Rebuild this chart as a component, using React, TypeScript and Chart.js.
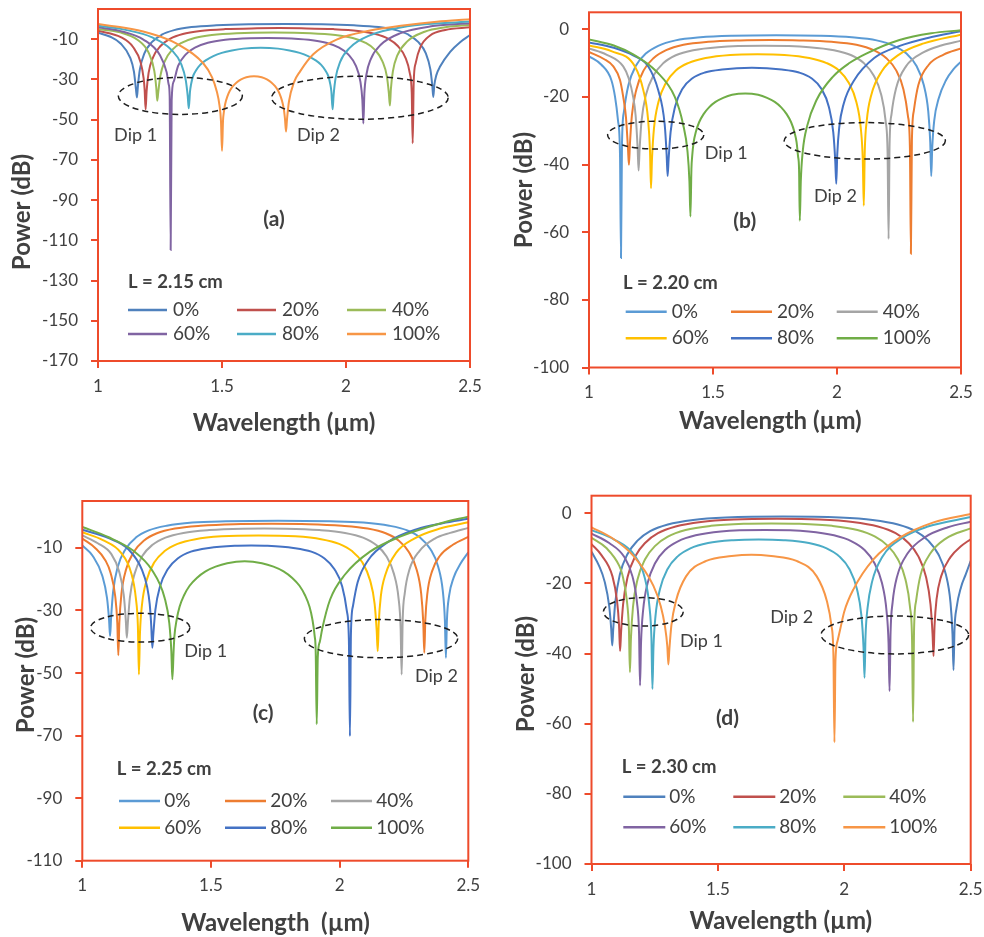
import React, { useEffect, useRef } from 'react';
import { Chart, registerables } from 'chart.js';

Chart.register(...registerables);

type Pt = [number, number];

// ---------- labels & ticks ----------
const seriesLabels = ['0%', '20%', '40%', '60%', '80%', '100%'];
const xTickValues = [1, 1.5, 2, 2.5];
const yTicksA = [-170, -150, -130, -110, -90, -70, -50, -30, -10];
const yTicksB = [-100, -80, -60, -40, -20, 0];
const yTicksC = [-110, -90, -70, -50, -30, -10];
const yTicksD = [-100, -80, -60, -40, -20, 0];

const colorsOffice2010 = ['#4F81BD', '#C0504D', '#9BBB59', '#8064A2', '#4BACC6', '#F79646'];
const colorsOffice2013 = ['#5B9BD5', '#ED7D31', '#A5A5A5', '#FFC000', '#4472C4', '#70AD47'];

// ---------- panel (a) L = 2.15 cm : [wavelength um, power dB] ----------
const a0: Pt[] = [[1.0,-6.8],[1.05,-8.8],[1.09,-12.0],[1.13,-19.3],[1.145,-26.2],[1.153,-34.8],[1.157,-39.0],[1.161,-33.2],[1.169,-24.9],[1.187,-17.1],[1.217,-11.5],[1.257,-7.8],[1.307,-5.5],[1.377,-4.0],[1.477,-3.1],[1.607,-2.6],[1.755,-2.5],[1.902,-2.6],[2.032,-3.1],[2.132,-4.0],[2.202,-5.5],[2.252,-7.8],[2.292,-11.5],[2.322,-17.1],[2.34,-24.9],[2.348,-33.1],[2.352,-38.7],[2.356,-33.0],[2.364,-28.0],[2.38,-23.5],[2.42,-16.3],[2.46,-11.5],[2.5,-8.0]];
const a1: Pt[] = [[1.0,-5.8],[1.092,-9.0],[1.142,-14.0],[1.172,-21.6],[1.184,-29.5],[1.188,-35.0],[1.192,-44.9],[1.196,-35.8],[1.204,-26.8],[1.222,-19.0],[1.252,-13.4],[1.292,-9.7],[1.342,-7.4],[1.412,-5.9],[1.512,-5.0],[1.642,-4.6],[1.731,-4.5],[1.819,-4.6],[1.949,-5.0],[2.049,-5.9],[2.119,-7.4],[2.169,-9.7],[2.209,-13.4],[2.239,-19.0],[2.257,-26.8],[2.265,-36.4],[2.269,-61.8],[2.273,-31.4],[2.281,-21.9],[2.299,-14.2],[2.339,-8.2],[2.4,-5.4],[2.5,-4.1]];
const a2: Pt[] = [[1.0,-5.0],[1.089,-6.6],[1.159,-10.3],[1.204,-16.7],[1.227,-25.8],[1.235,-34.2],[1.239,-40.6],[1.243,-36.3],[1.251,-28.5],[1.269,-21.0],[1.299,-15.3],[1.339,-11.7],[1.389,-9.4],[1.459,-7.9],[1.559,-7.0],[1.708,-6.7],[1.857,-7.0],[1.957,-7.9],[2.027,-9.4],[2.077,-11.7],[2.117,-15.3],[2.147,-21.0],[2.165,-28.6],[2.173,-37.1],[2.177,-43.0],[2.181,-34.8],[2.189,-26.0],[2.207,-18.1],[2.247,-11.1],[2.317,-6.3],[2.4,-4.1],[2.5,-2.9]];
const a3: Pt[] = [[1.0,-4.1],[1.1,-6.3],[1.183,-10.2],[1.25,-18.0],[1.277,-26.5],[1.285,-32.5],[1.289,-38.5],[1.293,-114.8],[1.297,-40.6],[1.305,-31.1],[1.323,-23.3],[1.353,-17.7],[1.393,-14.1],[1.443,-11.8],[1.513,-10.3],[1.613,-9.5],[1.682,-9.4],[1.75,-9.5],[1.85,-10.3],[1.92,-11.8],[1.97,-14.1],[2.01,-17.7],[2.04,-23.3],[2.058,-31.1],[2.066,-40.3],[2.07,-51.9],[2.074,-37.2],[2.082,-27.8],[2.1,-19.9],[2.14,-12.8],[2.22,-7.0],[2.35,-3.5],[2.5,-2.1]];
const a4: Pt[] = [[1.0,-3.3],[1.116,-5.5],[1.216,-9.0],[1.296,-15.3],[1.336,-22.5],[1.354,-30.5],[1.362,-38.6],[1.366,-44.4],[1.371,-36.0],[1.375,-32.6],[1.383,-28.5],[1.395,-25.6],[1.412,-22.8],[1.436,-20.4],[1.465,-18.4],[1.499,-16.8],[1.54,-15.6],[1.586,-14.7],[1.656,-14.3],[1.726,-14.7],[1.772,-15.6],[1.813,-16.8],[1.847,-18.4],[1.876,-20.4],[1.9,-22.8],[1.917,-25.6],[1.929,-28.5],[1.937,-32.6],[1.941,-36.0],[1.946,-44.9],[1.95,-37.9],[1.958,-29.4],[1.976,-21.4],[2.016,-14.2],[2.096,-8.1],[2.246,-3.6],[2.5,-1.2]];
const a5: Pt[] = [[1.0,-2.5],[1.1,-4.2],[1.2,-6.8],[1.317,-12.2],[1.425,-22.1],[1.46,-29.0],[1.479,-36.0],[1.49,-43.0],[1.496,-51.0],[1.5,-65.5],[1.504,-50.8],[1.508,-45.8],[1.513,-42.1],[1.521,-38.7],[1.531,-35.8],[1.544,-33.4],[1.559,-31.5],[1.577,-30.0],[1.598,-28.9],[1.629,-28.4],[1.66,-28.9],[1.681,-30.0],[1.699,-31.5],[1.714,-33.4],[1.727,-35.8],[1.737,-38.7],[1.745,-42.1],[1.75,-45.4],[1.754,-49.7],[1.758,-55.9],[1.762,-50.0],[1.77,-41.0],[1.79,-31.5],[1.815,-26.0],[1.868,-17.5],[1.962,-10.2],[2.097,-5.7],[2.23,-3.2],[2.366,-1.3],[2.5,-0.1]];

// ---------- panel (b) L = 2.20 cm ----------
const b0: Pt[] = [[1.0,-8.0],[1.05,-10.5],[1.09,-15.0],[1.105,-20.0],[1.117,-27.0],[1.125,-37.0],[1.129,-67.6],[1.133,-33.9],[1.141,-24.3],[1.159,-16.5],[1.189,-10.8],[1.229,-7.2],[1.279,-4.9],[1.349,-3.3],[1.449,-2.4],[1.579,-1.95],[1.755,-1.8],[1.93,-1.95],[2.06,-2.4],[2.16,-3.3],[2.23,-4.9],[2.28,-7.2],[2.32,-10.8],[2.35,-16.5],[2.368,-24.3],[2.376,-33.4],[2.38,-43.4],[2.384,-35.0],[2.392,-27.0],[2.41,-20.5],[2.44,-15.0],[2.47,-11.8],[2.5,-9.6]];
const b1: Pt[] = [[1.0,-6.7],[1.06,-8.8],[1.098,-11.0],[1.125,-15.0],[1.138,-20.0],[1.149,-26.0],[1.157,-35.0],[1.161,-40.1],[1.165,-34.0],[1.173,-25.4],[1.191,-17.8],[1.221,-12.1],[1.261,-8.5],[1.311,-6.2],[1.381,-4.6],[1.481,-3.7],[1.611,-3.3],[1.73,-3.2],[1.848,-3.3],[1.978,-3.7],[2.078,-4.6],[2.148,-6.2],[2.198,-8.5],[2.238,-12.1],[2.268,-17.8],[2.286,-25.6],[2.294,-35.1],[2.298,-66.4],[2.302,-33.0],[2.31,-24.0],[2.328,-16.5],[2.37,-10.5],[2.43,-7.5],[2.5,-5.7]];
const b2: Pt[] = [[1.0,-5.7],[1.07,-7.5],[1.138,-11.0],[1.16,-14.5],[1.178,-20.0],[1.188,-25.5],[1.196,-35.0],[1.2,-41.8],[1.204,-35.5],[1.212,-27.0],[1.23,-19.3],[1.26,-13.7],[1.3,-10.0],[1.35,-7.7],[1.42,-6.2],[1.52,-5.3],[1.704,-4.9],[1.888,-5.3],[1.988,-6.2],[2.058,-7.7],[2.108,-10.0],[2.148,-13.7],[2.178,-19.3],[2.196,-27.1],[2.204,-36.7],[2.208,-62.0],[2.212,-34.0],[2.22,-25.0],[2.238,-17.5],[2.278,-11.0],[2.35,-6.8],[2.42,-4.8],[2.5,-3.4]];
const b3: Pt[] = [[1.0,-4.8],[1.09,-6.5],[1.185,-11.0],[1.219,-18.0],[1.238,-26.5],[1.246,-36.0],[1.25,-47.0],[1.254,-38.3],[1.262,-29.3],[1.28,-21.5],[1.31,-15.9],[1.35,-12.2],[1.4,-10.0],[1.47,-8.5],[1.57,-7.6],[1.679,-7.4],[1.788,-7.6],[1.888,-8.5],[1.958,-10.0],[2.008,-12.2],[2.048,-15.9],[2.078,-21.5],[2.096,-29.3],[2.104,-38.7],[2.108,-52.2],[2.112,-36.0],[2.12,-27.0],[2.138,-19.5],[2.18,-12.5],[2.25,-7.5],[2.35,-4.2],[2.5,-1.6]];
const b4: Pt[] = [[1.0,-3.9],[1.1,-5.5],[1.18,-7.8],[1.239,-11.0],[1.279,-18.0],[1.305,-28.0],[1.313,-37.0],[1.317,-43.4],[1.321,-38.4],[1.329,-30.4],[1.347,-22.9],[1.377,-17.6],[1.417,-14.5],[1.467,-12.8],[1.537,-11.9],[1.657,-11.4],[1.777,-11.9],[1.847,-12.8],[1.897,-14.5],[1.937,-17.6],[1.967,-22.9],[1.985,-30.5],[1.993,-39.0],[1.997,-45.7],[2.001,-37.0],[2.009,-29.0],[2.027,-22.0],[2.07,-15.0],[2.15,-8.5],[2.25,-5.0],[2.37,-2.5],[2.5,-0.6]];
const b5: Pt[] = [[1.0,-3.0],[1.1,-4.8],[1.18,-7.5],[1.272,-12.5],[1.346,-20.0],[1.379,-28.0],[1.397,-36.0],[1.405,-45.0],[1.409,-55.4],[1.413,-41.3],[1.416,-37.6],[1.422,-33.4],[1.431,-30.3],[1.444,-27.5],[1.462,-25.1],[1.484,-23.1],[1.51,-21.5],[1.541,-20.3],[1.577,-19.4],[1.63,-19.0],[1.682,-19.4],[1.718,-20.3],[1.749,-21.5],[1.775,-23.1],[1.797,-25.1],[1.815,-27.5],[1.828,-30.3],[1.837,-33.4],[1.843,-37.6],[1.847,-41.3],[1.85,-56.6],[1.854,-45.0],[1.862,-36.0],[1.88,-28.5],[1.917,-21.0],[1.984,-14.0],[2.05,-10.0],[2.118,-7.2],[2.252,-3.2],[2.38,-1.2],[2.5,-0.3]];

// ---------- panel (c) L = 2.25 cm ----------
const c0: Pt[] = [[1.0,-9.2],[1.04,-12.5],[1.078,-19.0],[1.096,-26.0],[1.104,-33.0],[1.108,-38.2],[1.112,-32.2],[1.12,-23.8],[1.138,-16.0],[1.168,-10.4],[1.208,-6.7],[1.258,-4.4],[1.328,-2.9],[1.428,-1.9],[1.558,-1.5],[1.761,-1.3],[1.963,-1.5],[2.093,-1.9],[2.193,-2.9],[2.263,-4.4],[2.313,-6.7],[2.353,-10.4],[2.383,-16.0],[2.401,-23.8],[2.409,-33.1],[2.413,-45.1],[2.417,-33.0],[2.425,-25.5],[2.443,-19.5],[2.47,-15.0],[2.5,-11.4]];
const c1: Pt[] = [[1.0,-7.0],[1.05,-10.0],[1.09,-14.0],[1.11,-18.0],[1.128,-25.5],[1.136,-34.0],[1.14,-44.3],[1.144,-33.9],[1.152,-24.7],[1.17,-16.9],[1.2,-11.3],[1.24,-7.6],[1.29,-5.3],[1.36,-3.8],[1.46,-2.9],[1.59,-2.4],[1.735,-2.3],[1.879,-2.4],[2.009,-2.9],[2.109,-3.8],[2.179,-5.3],[2.229,-7.6],[2.269,-11.3],[2.299,-16.9],[2.317,-24.7],[2.325,-33.8],[2.329,-43.5],[2.333,-33.0],[2.341,-24.5],[2.359,-17.5],[2.39,-12.5],[2.44,-9.0],[2.5,-6.5]];
const c2: Pt[] = [[1.0,-6.0],[1.06,-8.5],[1.113,-12.0],[1.143,-17.5],[1.161,-25.0],[1.169,-33.0],[1.173,-38.7],[1.177,-33.9],[1.185,-25.8],[1.203,-18.3],[1.233,-12.6],[1.273,-9.0],[1.323,-6.7],[1.393,-5.2],[1.493,-4.3],[1.623,-3.85],[1.707,-3.8],[1.791,-3.85],[1.921,-4.3],[2.021,-5.2],[2.091,-6.7],[2.141,-9.0],[2.181,-12.6],[2.211,-18.3],[2.229,-26.1],[2.237,-35.5],[2.241,-50.5],[2.245,-33.0],[2.253,-24.5],[2.271,-17.0],[2.31,-11.0],[2.37,-7.0],[2.43,-5.2],[2.5,-3.6]];
const c3: Pt[] = [[1.0,-5.0],[1.08,-7.5],[1.15,-11.5],[1.19,-18.0],[1.208,-26.0],[1.216,-35.0],[1.22,-50.5],[1.224,-37.4],[1.232,-28.1],[1.25,-20.3],[1.28,-14.6],[1.32,-11.0],[1.37,-8.7],[1.44,-7.2],[1.54,-6.3],[1.684,-6.0],[1.828,-6.3],[1.928,-7.2],[1.998,-8.7],[2.048,-11.0],[2.088,-14.6],[2.118,-20.3],[2.136,-27.9],[2.144,-36.5],[2.148,-43.0],[2.152,-34.0],[2.16,-25.5],[2.178,-18.5],[2.22,-11.5],[2.29,-7.0],[2.39,-3.8],[2.5,-1.8]];
const c4: Pt[] = [[1.0,-4.2],[1.1,-6.8],[1.18,-10.5],[1.232,-17.0],[1.252,-22.5],[1.262,-28.0],[1.268,-35.0],[1.272,-41.9],[1.276,-37.6],[1.284,-29.8],[1.302,-22.3],[1.332,-16.8],[1.372,-13.3],[1.422,-11.2],[1.492,-10.0],[1.592,-9.3],[1.656,-9.2],[1.72,-9.3],[1.82,-10.0],[1.89,-11.2],[1.94,-13.3],[1.98,-16.8],[2.01,-22.3],[2.028,-30.1],[2.036,-39.6],[2.04,-70.2],[2.044,-37.0],[2.052,-28.5],[2.07,-21.0],[2.11,-14.0],[2.19,-8.0],[2.3,-4.0],[2.4,-2.1],[2.5,-0.7]];
const c5: Pt[] = [[1.0,-3.3],[1.1,-6.5],[1.2,-11.0],[1.27,-17.0],[1.32,-26.0],[1.338,-34.0],[1.346,-43.0],[1.35,-52.0],[1.355,-42.6],[1.358,-38.2],[1.367,-32.8],[1.378,-28.8],[1.395,-25.2],[1.417,-22.1],[1.445,-19.6],[1.479,-17.5],[1.518,-16.0],[1.563,-14.9],[1.631,-14.3],[1.698,-14.9],[1.743,-16.0],[1.782,-17.5],[1.816,-19.6],[1.844,-22.1],[1.866,-25.2],[1.883,-28.8],[1.894,-32.8],[1.903,-38.2],[1.907,-43.1],[1.911,-66.4],[1.915,-45.0],[1.923,-40.0],[1.932,-36.0],[1.963,-26.5],[2.021,-18.5],[2.118,-11.2],[2.235,-6.4],[2.39,-2.2],[2.5,0.0]];

// ---------- panel (d) L = 2.30 cm ----------
const d0: Pt[] = [[1.0,-11.0],[1.03,-15.0],[1.052,-19.5],[1.07,-26.5],[1.078,-33.0],[1.082,-37.7],[1.086,-33.0],[1.094,-25.4],[1.112,-17.5],[1.142,-11.7],[1.182,-7.8],[1.232,-5.1],[1.302,-3.2],[1.402,-1.9],[1.532,-1.2],[1.757,-0.9],[1.982,-1.2],[2.112,-1.9],[2.212,-3.2],[2.282,-5.1],[2.332,-7.8],[2.372,-11.7],[2.402,-17.5],[2.42,-25.4],[2.428,-34.4],[2.432,-44.7],[2.436,-33.0],[2.444,-27.0],[2.462,-21.0],[2.48,-17.5],[2.5,-13.6]];
const d1: Pt[] = [[1.0,-8.8],[1.04,-12.0],[1.083,-18.0],[1.101,-25.0],[1.109,-32.0],[1.113,-39.3],[1.117,-33.9],[1.125,-26.0],[1.143,-18.1],[1.173,-12.3],[1.213,-8.4],[1.263,-5.7],[1.333,-3.8],[1.433,-2.5],[1.563,-1.8],[1.733,-1.6],[1.903,-1.8],[2.033,-2.5],[2.133,-3.8],[2.203,-5.7],[2.253,-8.4],[2.293,-12.3],[2.323,-18.1],[2.341,-26.0],[2.349,-34.3],[2.353,-40.7],[2.357,-32.0],[2.365,-24.5],[2.383,-18.0],[2.42,-12.5],[2.46,-9.5],[2.5,-7.4]];
const d2: Pt[] = [[1.0,-7.0],[1.06,-10.0],[1.11,-15.0],[1.122,-17.5],[1.14,-25.0],[1.148,-33.0],[1.152,-45.3],[1.156,-35.7],[1.164,-26.8],[1.182,-18.9],[1.212,-13.1],[1.252,-9.3],[1.302,-6.7],[1.372,-4.8],[1.472,-3.6],[1.602,-3.0],[1.712,-2.9],[1.822,-3.0],[1.952,-3.6],[2.052,-4.8],[2.122,-6.7],[2.172,-9.3],[2.212,-13.1],[2.242,-18.9],[2.26,-26.8],[2.268,-36.1],[2.272,-59.5],[2.276,-33.0],[2.284,-25.0],[2.302,-17.5],[2.34,-11.5],[2.4,-7.3],[2.5,-4.3]];
const d3: Pt[] = [[1.0,-5.8],[1.07,-8.5],[1.13,-12.5],[1.162,-18.0],[1.18,-25.5],[1.188,-34.0],[1.192,-49.1],[1.196,-36.8],[1.204,-27.8],[1.222,-19.9],[1.252,-14.2],[1.292,-10.4],[1.342,-8.0],[1.412,-6.3],[1.512,-5.2],[1.686,-4.8],[1.859,-5.2],[1.959,-6.3],[2.029,-8.0],[2.079,-10.4],[2.119,-14.2],[2.149,-19.9],[2.167,-27.8],[2.175,-37.0],[2.179,-50.7],[2.183,-34.0],[2.191,-25.5],[2.209,-18.0],[2.25,-11.5],[2.32,-6.8],[2.41,-4.0],[2.5,-2.4]];
const d4: Pt[] = [[1.0,-4.8],[1.09,-7.5],[1.17,-12.0],[1.211,-18.5],[1.229,-26.5],[1.237,-35.5],[1.241,-50.1],[1.245,-38.5],[1.253,-29.4],[1.271,-21.6],[1.301,-15.9],[1.341,-12.3],[1.391,-10.0],[1.461,-8.5],[1.561,-7.7],[1.661,-7.5],[1.76,-7.7],[1.86,-8.5],[1.93,-10.0],[1.98,-12.3],[2.02,-15.9],[2.05,-21.6],[2.068,-29.4],[2.076,-38.2],[2.08,-46.9],[2.084,-35.0],[2.092,-27.0],[2.11,-19.5],[2.15,-12.5],[2.23,-7.0],[2.33,-3.8],[2.5,-1.1]];
const d5: Pt[] = [[1.0,-4.0],[1.08,-7.0],[1.165,-12.1],[1.245,-20.7],[1.274,-26.5],[1.29,-32.0],[1.3,-38.0],[1.304,-43.1],[1.308,-38.8],[1.316,-32.0],[1.334,-25.0],[1.374,-18.0],[1.454,-13.6],[1.554,-12.2],[1.633,-11.8],[1.711,-12.2],[1.811,-13.6],[1.891,-18.0],[1.931,-25.0],[1.949,-32.0],[1.957,-40.6],[1.961,-65.3],[1.965,-42.0],[1.973,-36.5],[1.984,-33.0],[2.0,-28.0],[2.036,-21.7],[2.116,-13.1],[2.221,-6.9],[2.353,-2.6],[2.5,-0.2]];

// ---------- styling ----------
const RED = '#EE4B2B';
const TEXT = '#404040';
const FONT = 'Lato, "Open Sans", "DejaVu Sans", sans-serif';

interface Ell { x: number; y: number; rx: number; ry: number }
interface Txt { text: string; x: number; y: number }
interface Panel {
  key: string;
  left: number; top: number; width: number; height: number;
  padTop: number; padRight: number; yWidth: number; xHeight: number;
  yMin: number; yMax: number; yTicks: number[];
  series: Pt[][]; colors: string[];
  lengthLabel: string; tag: Txt;
  ellipses: Ell[]; dips: Txt[];
  legend: { titleX: number; titleY: number; rows: number[]; cols: number[]; lineLen: number; gap: number };
  xTitle: string; xTitlePos: Pt; yTitlePos: Pt;
}

const panels: Panel[] = [
  {
    key: 'a', left: 0, top: 0, width: 492, height: 468,
    padTop: 9, padRight: 22, yWidth: 98, xHeight: 107,
    yMin: -170, yMax: 5, yTicks: yTicksA,
    series: [a0, a1, a2, a3, a4, a5], colors: colorsOffice2010,
    lengthLabel: 'L = 2.15 cm', tag: { text: '(a)', x: 1.71, y: -99.4 },
    ellipses: [{ x: 1.332, y: -38.2, rx: 0.25, ry: 9.2 }, { x: 2.056, y: -39.1, rx: 0.356, ry: 10.7 }],
    dips: [{ text: 'Dip 1', x: 1.065, y: -57.7 }, { text: 'Dip 2', x: 1.802, y: -57.7 }],
    legend: { titleX: 30, titleY: 273, rows: [301, 325], cols: [30, 139, 249], lineLen: 39, gap: 45 },
    xTitle: 'Wavelength (µm)', xTitlePos: [284, 423], yTitlePos: [22.5, 212],
  },
  {
    key: 'b', left: 492, top: 0, width: 492, height: 468,
    padTop: 12.3, padRight: 23, yWidth: 97, xHeight: 100.5,
    yMin: -100, yMax: 5, yTicks: yTicksB,
    series: [b0, b1, b2, b3, b4, b5], colors: colorsOffice2013,
    lengthLabel: 'L = 2.20 cm', tag: { text: '(b)', x: 1.628, y: -56.8 },
    ellipses: [{ x: 1.269, y: -31.3, rx: 0.194, ry: 4.1 }, { x: 2.112, y: -33.0, rx: 0.325, ry: 5.4 }],
    dips: [{ text: 'Dip 1', x: 1.467, y: -36.7 }, { text: 'Dip 2', x: 1.907, y: -49.5 }],
    legend: { titleX: 34, titleY: 271, rows: [299.4, 326], cols: [36.7, 142, 247.7], lineLen: 41, gap: 46 },
    xTitle: 'Wavelength (µm)', xTitlePos: [278.3, 421.7], yTitlePos: [32, 190],
  },
  {
    key: 'c', left: 0, top: 468, width: 492, height: 469,
    padTop: 33, padRight: 23.7, yWidth: 82.3, xHeight: 76.3,
    yMin: -110, yMax: 5, yTicks: yTicksC,
    series: [c0, c1, c2, c3, c4, c5], colors: colorsOffice2013,
    lengthLabel: 'L = 2.25 cm', tag: { text: '(c)', x: 1.703, y: -62.7 },
    ellipses: [{ x: 1.225, y: -35.5, rx: 0.193, ry: 4.6 }, { x: 2.161, y: -39.0, rx: 0.298, ry: 6.1 }],
    dips: [{ text: 'Dip 1', x: 1.396, y: -43.0 }, { text: 'Dip 2', x: 2.293, y: -51.0 }],
    legend: { titleX: 34.4, titleY: 268.3, rows: [300, 326.7], cols: [36.7, 142.7, 248.7], lineLen: 41, gap: 45.3 },
    xTitle: 'Wavelength  (µm)', xTitlePos: [275.5, 455.3], yTitlePos: [26, 207],
  },
  {
    key: 'd', left: 492, top: 468, width: 492, height: 469,
    padTop: 27.7, padRight: 13.3, yWidth: 99.5, xHeight: 73,
    yMin: -100, yMax: 5, yTicks: yTicksD,
    series: [d0, d1, d2, d3, d4, d5], colors: colorsOffice2010,
    lengthLabel: 'L = 2.30 cm', tag: { text: '(d)', x: 1.538, y: -58.4 },
    ellipses: [{ x: 1.205, y: -28.1, rx: 0.158, ry: 4.05 }, { x: 2.2, y: -34.7, rx: 0.292, ry: 5.4 }],
    dips: [{ text: 'Dip 1', x: 1.35, y: -36.5 }, { text: 'Dip 2', x: 1.707, y: -29.5 }],
    legend: { titleX: 30.2, titleY: 271, rows: [301, 331.6], cols: [31.8, 141.8, 251.8], lineLen: 42, gap: 46 },
    xTitle: 'Wavelength (µm)', xTitlePos: [288.8, 453.7], yTitlePos: [34, 206],
  },
];

function makeDecor(p: Panel) {
  return {
    id: 'decor_' + p.key,
    afterDraw(chart: any) {
      const { ctx, chartArea: ca, scales } = chart;
      const xs = scales.x;
      const ys = scales.y;
      ctx.save();
      // plot-area frame
      ctx.strokeStyle = RED;
      ctx.lineWidth = 2;
      ctx.strokeRect(ca.left, ca.top, ca.right - ca.left, ca.bottom - ca.top);

      // dashed ellipses
      ctx.strokeStyle = '#1e1e1e';
      ctx.lineWidth = 1.5;
      ctx.setLineDash([6, 4]);
      for (const e of p.ellipses) {
        const cx = xs.getPixelForValue(e.x);
        const cy = ys.getPixelForValue(e.y);
        const rx = Math.abs(xs.getPixelForValue(e.x + e.rx) - cx);
        const ry = Math.abs(ys.getPixelForValue(e.y + e.ry) - cy);
        ctx.beginPath();
        ctx.ellipse(cx, cy, rx, ry, 0, 0, Math.PI * 2);
        ctx.stroke();
      }
      ctx.setLineDash([]);

      // dip labels
      ctx.fillStyle = TEXT;
      ctx.textBaseline = 'middle';
      ctx.textAlign = 'left';
      ctx.font = `18px ${FONT}`;
      for (const d of p.dips) {
        ctx.fillText(d.text, xs.getPixelForValue(d.x), ys.getPixelForValue(d.y));
      }

      // panel tag
      ctx.font = `bold 21px ${FONT}`;
      ctx.textAlign = 'center';
      ctx.fillText(p.tag.text, xs.getPixelForValue(p.tag.x), ys.getPixelForValue(p.tag.y));

      // legend
      const lg = p.legend;
      ctx.textAlign = 'left';
      ctx.font = `bold 18.5px ${FONT}`;
      ctx.fillText(p.lengthLabel, ca.left + lg.titleX, ca.top + lg.titleY);
      ctx.font = `19px ${FONT}`;
      seriesLabels.forEach((lab, i) => {
        const row = Math.floor(i / 3);
        const col = i % 3;
        const x0 = ca.left + lg.cols[col];
        const y0 = ca.top + lg.rows[row];
        ctx.strokeStyle = p.colors[i];
        ctx.lineWidth = 2.5;
        ctx.beginPath();
        ctx.moveTo(x0, y0);
        ctx.lineTo(x0 + lg.lineLen, y0);
        ctx.stroke();
        ctx.fillStyle = TEXT;
        ctx.fillText(lab, x0 + lg.gap, y0);
      });

      // axis titles
      ctx.font = `bold 24px ${FONT}`;
      ctx.textAlign = 'center';
      ctx.fillStyle = TEXT;
      ctx.fillText(p.xTitle, p.xTitlePos[0], p.xTitlePos[1]);
      ctx.save();
      ctx.translate(p.yTitlePos[0], p.yTitlePos[1]);
      ctx.rotate(-Math.PI / 2);
      ctx.fillText('Power (dB)', 0, 0);
      ctx.restore();

      ctx.restore();
    },
  };
}

function ChartPanel({ p }: { p: Panel }) {
  const ref = useRef<HTMLCanvasElement>(null);
  useEffect(() => {
    const canvas = ref.current;
    if (!canvas) return;
    const n = p.series.length;
    const chart = new Chart(canvas, {
      type: 'line',
      data: {
        datasets: p.series.map((s, i) => ({
          label: seriesLabels[i],
          data: s.map(([x, y]) => ({ x, y })),
          borderColor: p.colors[i],
          backgroundColor: p.colors[i],
          borderWidth: 2,
          pointRadius: 0,
          pointHoverRadius: 0,
          cubicInterpolationMode: 'monotone' as const,
          fill: false,
          order: n - 1 - i,
        })),
      },
      options: {
        animation: false,
        responsive: false,
        events: [],
        layout: { padding: { top: p.padTop, right: p.padRight, left: 0, bottom: 0 } },
        plugins: { legend: { display: false }, tooltip: { enabled: false }, title: { display: false } },
        scales: {
          x: {
            type: 'linear',
            min: 1,
            max: 2.5,
            afterBuildTicks: (ax: any) => { ax.ticks = xTickValues.map((v) => ({ value: v })); },
            afterFit: (ax: any) => { ax.height = p.xHeight; ax.paddingLeft = 0; ax.paddingRight = 0; },
            grid: { drawOnChartArea: false, drawTicks: true, tickLength: 7, color: RED, lineWidth: 2 },
            border: { display: false },
            ticks: {
              color: TEXT,
              font: { family: FONT, size: 17 },
              padding: 8,
              maxRotation: 0,
              autoSkip: false,
              callback: (v: any) => String(v),
            },
          },
          y: {
            type: 'linear',
            min: p.yMin,
            max: p.yMax,
            afterBuildTicks: (ax: any) => { ax.ticks = p.yTicks.map((v) => ({ value: v })); },
            afterFit: (ax: any) => { ax.width = p.yWidth; ax.paddingTop = 0; ax.paddingBottom = 0; },
            grid: { drawOnChartArea: false, drawTicks: true, tickLength: 7, color: RED, lineWidth: 2 },
            border: { display: false },
            ticks: {
              color: TEXT,
              font: { family: FONT, size: 17 },
              padding: 13,
              autoSkip: false,
              callback: (v: any) => String(v),
            },
          },
        },
      },
      plugins: [makeDecor(p)],
    } as any);
    return () => chart.destroy();
  }, [p]);
  return (
    <canvas
      ref={ref}
      width={p.width}
      height={p.height}
      style={{ position: 'absolute', left: p.left, top: p.top, width: p.width, height: p.height }}
    />
  );
}

export default function App() {
  return (
    <div style={{ position: 'absolute', left: 0, top: 0, width: 984, height: 937, background: '#ffffff', overflow: 'hidden' }}>
      {panels.map((p) => (
        <ChartPanel key={p.key} p={p} />
      ))}
    </div>
  );
}
